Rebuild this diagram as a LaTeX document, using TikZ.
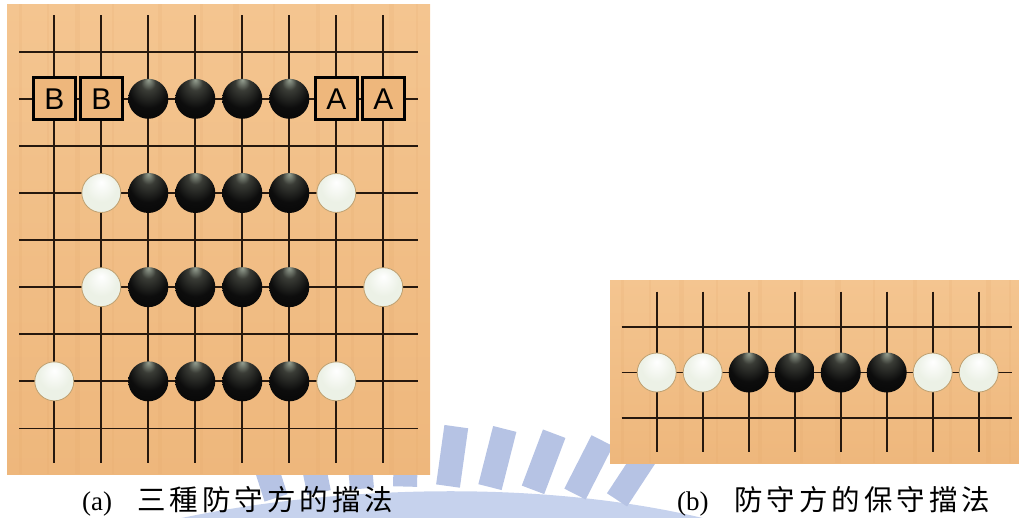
\documentclass[tikz,border=0pt]{standalone}
\usepackage{fontspec}
\setmainfont{Liberation Serif}
\newfontfamily\cjkcap[LetterSpace=14]{Noto Sans CJK TC}
\newfontfamily\boxfont{Liberation Sans}
\definecolor{wood}{RGB}{238,183,124}
\definecolor{woodlight}{RGB}{244,197,144}
\definecolor{woodgrain}{RGB}{222,160,100}
\definecolor{gridc}{RGB}{38,24,14}
\definecolor{wm}{RGB}{182,195,228}
\definecolor{wmlight}{RGB}{198,210,237}
\definecolor{bhi}{RGB}{150,160,145}
\definecolor{bmid}{RGB}{58,60,54}
\definecolor{wtop}{RGB}{255,255,255}
\definecolor{wbody}{RGB}{236,241,230}
\definecolor{wedge}{RGB}{214,212,190}
\definecolor{wrim}{RGB}{190,160,112}
\pgfdeclareradialshading{blackstone}{\pgfpoint{0bp}{24bp}}{color(0bp)=(bhi); color(9bp)=(bmid); color(24bp)=(black!95); color(50bp)=(black)}
\pgfdeclareradialshading{whitestone}{\pgfpoint{0bp}{14bp}}{color(0bp)=(wtop); color(20bp)=(wbody); color(40bp)=(wbody); color(50bp)=(wedge)}
\tikzset{
  bstone/.style={circle, minimum size=40pt, inner sep=0pt, shade, shading=blackstone},
  wstone/.style={circle, minimum size=39pt, inner sep=0pt, shade, shading=whitestone, draw=wrim, line width=0.8pt},
  lbox/.style={draw=black, line width=2.8pt, fill=wood, minimum size=42pt, inner sep=0pt, font=\boxfont\fontsize{30}{30}\selectfont},
  gridline/.style={draw=gridc, line width=1.8pt},
  board/.style={top color=woodlight, bottom color=wood},
  grain/.style={draw=woodgrain, opacity=0.12},
  caption/.style={anchor=base west, inner sep=0pt, font=\fontsize{27}{27}\selectfont},
}
\begin{document}
\begin{tikzpicture}[x=1pt, y=-1pt]
\useasboundingbox (0,0) rectangle (1019,517);
% watermark
\begin{scope}
  \clip (0,0) rectangle (1019,517);
  \fill[wmlight] (150,525) .. controls (330,482) and (560,478) .. (730,525) -- cycle;
  \foreach \xb in {276,319,362,405,448,490,533,575,617} {
    \pgfmathsetmacro\t{0.15*(\xb-395)}
    \pgfmathsetmacro\yb{486+0.00044*(\xb-440)*(\xb-440)}
    \fill[wm] ({\xb-12*cos(\t)},{\yb-12*sin(\t)}) -- ({\xb+12*cos(\t)},{\yb+12*sin(\t)})
      -- ({\xb+12*cos(\t)+60*sin(\t)},{\yb+12*sin(\t)-60*cos(\t)})
      -- ({\xb-12*cos(\t)+60*sin(\t)},{\yb-12*sin(\t)-60*cos(\t)}) -- cycle;
  }
\end{scope}
% board (a)
\shade[board] (7,4) rectangle (430,474);
\foreach \gx/\gw in {20/3,48/2,77/5,113/2,160/4,201/3,236/6,274/2,318/4,352/3,391/5,417/2}
  \draw[grain, line width=\gw pt] (\gx,4) -- (\gx,474);
\begin{scope}[shift={(54.3,51.7)}, x=47pt, y=-47.09pt]
  \foreach \r in {0,...,8} \draw[gridline] (-0.751,\r) -- (7.732,\r);
  \foreach \c in {0,...,7} \draw[gridline] (\c,-0.779) -- (\c,8.734);
  \node[lbox] (b1) at (0,1) {B};
  \node[lbox] (b2) at (1,1) {B};
  \node[lbox] (a1) at (6,1) {A};
  \node[lbox] (a2) at (7,1) {A};
  \foreach \c in {2,...,5} {
    \node[bstone] (r1k\c) at (\c,1) {};
    \node[bstone] (r3k\c) at (\c,3) {};
    \node[bstone] (r5k\c) at (\c,5) {};
    \node[bstone] (r7k\c) at (\c,7) {};
  }
  \node[wstone] (r3w1) at (1,3) {};
  \node[wstone] (r3w6) at (6,3) {};
  \node[wstone] (r5w1) at (1,5) {};
  \node[wstone] (r5w7) at (7,5) {};
  \node[wstone] (r7w0) at (0,7) {};
  \node[wstone] (r7w6) at (6,7) {};
\end{scope}
% board (b)
\shade[board] (610,280) rectangle (1019,463);
\foreach \gx/\gw in {622/3,650/2,681/5,717/2,760/4,801/3,838/6,874/2,915/4,950/3,988/5,1010/2}
  \draw[grain, line width=\gw pt] (\gx,280) -- (\gx,463);
\begin{scope}[shift={(656.7,326.7)}, x=46pt, y=-45.8pt]
  \foreach \r in {0,...,2} \draw[gridline] (-0.761,\r) -- (7.73,\r);
  \foreach \c in {0,...,7} \draw[gridline] (\c,-0.764) -- (\c,2.73);
  \node[wstone] (sw0) at (0,1) {};
  \node[wstone] (sw1) at (1,1) {};
  \foreach \c in {2,...,5} \node[bstone] (sk\c) at (\c,1) {};
  \node[wstone] (sw6) at (6,1) {};
  \node[wstone] (sw7) at (7,1) {};
\end{scope}
% captions
\node[caption] (capa) at (82,510) {\makebox[55pt][l]{(a)}{\cjkcap\fontsize{28.5}{28.5}\selectfont 三種防守方的擋法}};
\node[caption] (capb) at (677,510) {\makebox[57pt][l]{(b)}{\cjkcap\fontsize{28.5}{28.5}\selectfont 防守方的保守擋法}};
\end{tikzpicture}
\end{document}
